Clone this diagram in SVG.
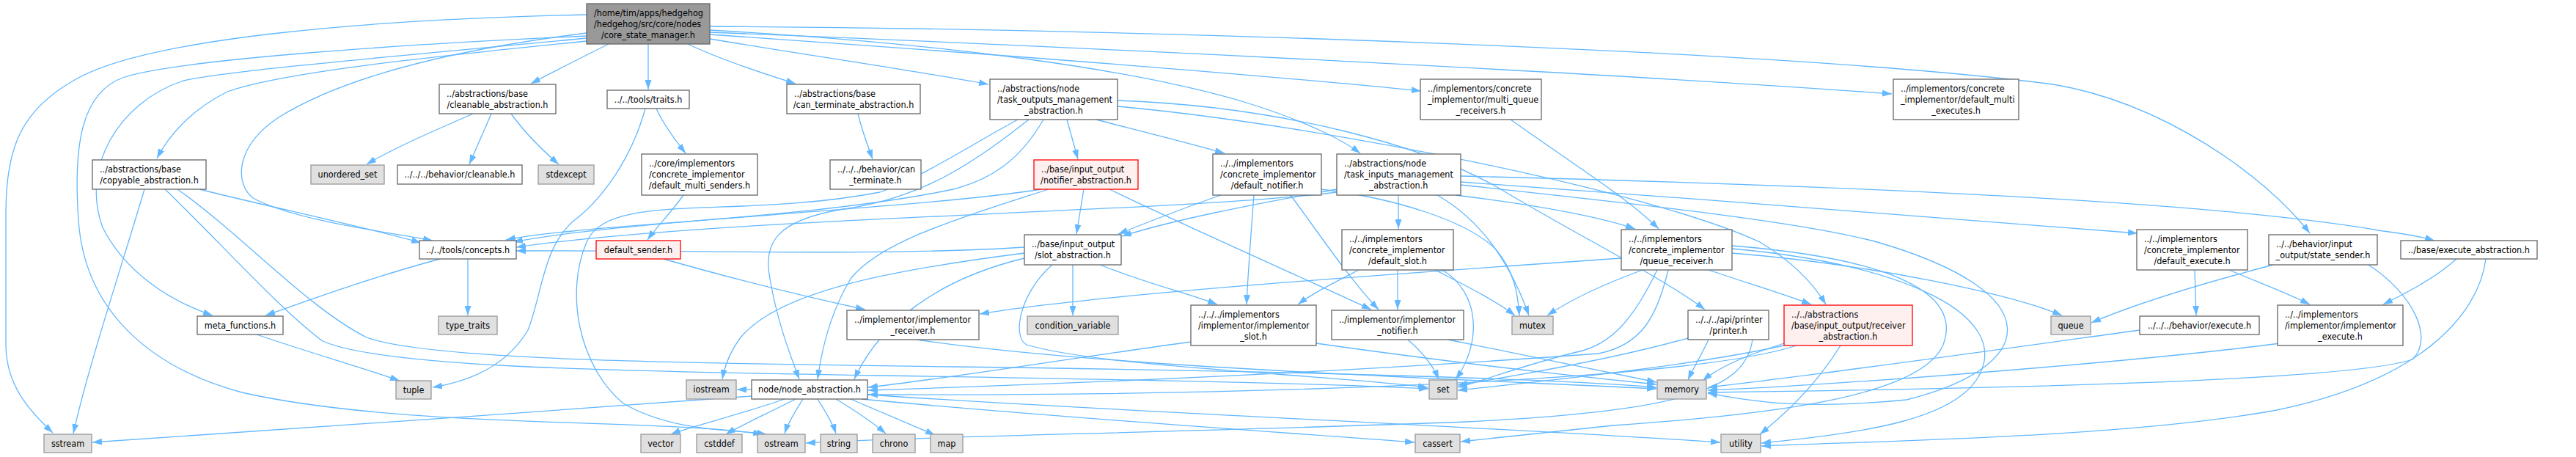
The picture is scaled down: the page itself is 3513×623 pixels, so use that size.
<svg xmlns="http://www.w3.org/2000/svg" width="3513" height="623" viewBox="0 0 3513 623">
<defs>
<marker id="a" viewBox="0 0 13 9" refX="13" refY="4.5" markerWidth="13" markerHeight="9" markerUnits="userSpaceOnUse" orient="auto"><path d="M0,0 L13,4.5 L0,9 z" fill="#63b8ff"/></marker>
<style>
.w{fill:#fff;stroke:#666;stroke-width:1.3}
.g{fill:#e0e0e0;stroke:#999;stroke-width:1.3}
.r{fill:#fff0f0;stroke:#f00;stroke-width:1.3}
.rt{fill:#999;stroke:#666;stroke-width:1.3}
text{font-family:"DejaVu Sans Condensed","DejaVu Sans",sans-serif;font-stretch:condensed;font-size:12.5px;fill:#000}
.c{text-anchor:middle}
#edges path{fill:none;stroke:#63b8ff;stroke-width:1.3;marker-end:url(#a)}
</style>
</defs>
<rect width="3513" height="623" fill="#fff"/>
<g id="edges">
<path d="M800,20 C520,26 200,50 100,110 C30,150 8,200 8,290 L8,470 C8,525 40,560 72,590"/>
<path d="M800,49 C560,60 250,80 170,105 C110,125 100,200 107,300 C115,420 200,500 330,535 C550,585 900,570 1040,592"/>
<path d="M800,52 C560,75 320,95 250,110 C160,140 110,230 140,310 C170,370 230,410 290,430"/>
<path d="M800,56 C560,80 380,100 310,125 C260,150 230,185 214,216"/>
<path d="M800,45 C600,70 460,110 380,160 C320,200 320,250 345,270 C400,300 520,315 590,328"/>
<path d="M830,60 C800,75 760,95 724,114"/>
<path d="M884,60 L884,122"/>
<path d="M938,60 C980,80 1040,100 1085,114"/>
<path d="M968,53 C1100,75 1240,95 1348,115"/>
<path d="M968,47 C1300,70 1700,100 1938,124"/>
<path d="M968,41 C1300,60 1550,95 1700,140 C1780,165 1830,190 1855,209"/>
<path d="M968,44 C1500,65 2200,100 2580,128"/>
<path d="M968,36 C1600,40 2450,70 2800,115 C2950,140 3090,240 3150,318"/>
<path d="M645,155 C600,175 540,200 500,224"/>
<path d="M670,155 L640,224"/>
<path d="M697,155 C715,180 740,205 762,224"/>
<path d="M197,258 C170,350 120,500 100,591"/>
<path d="M272,258 C380,285 480,305 574,331"/>
<path d="M225,258 C300,330 380,420 440,465 C520,500 800,505 1200,512 C1600,518 1850,525 1948,530"/>
<path d="M242,258 C330,320 420,420 500,460 C580,490 900,495 1300,500 C1700,505 2100,515 2259,528"/>
<path d="M880,148 C860,220 820,270 790,295 C740,330 740,400 720,450 C690,500 640,520 590,528"/>
<path d="M895,148 C905,170 920,190 935,209"/>
<path d="M1170,155 C1176,180 1184,200 1190,217"/>
<path d="M932,266 C915,290 895,310 883,327"/>
<path d="M638,353 L638,430"/>
<path d="M600,353 C500,380 420,410 362,430"/>
<path d="M350,456 C420,480 490,500 545,519"/>
<path d="M905,353 C1000,380 1100,405 1180,422"/>
<path d="M1423,163 C1390,220 1350,245 1300,258 C1100,300 800,305 690,327"/>
<path d="M1388,163 C1320,200 1260,240 1200,262 C1000,300 830,260 800,330 C770,400 790,500 850,550 C920,590 1000,585 1045,592"/>
<path d="M1403,163 C1330,220 1260,270 1150,285 C1060,300 1040,330 1050,380 C1060,440 1080,490 1090,517"/>
<path d="M1455,163 L1470,217"/>
<path d="M1495,163 C1560,180 1620,195 1670,209"/>
<path d="M1524,137 C1750,145 1950,200 2050,260 C2150,320 2270,380 2325,422"/>
<path d="M1524,145 C1800,170 2250,260 2400,330 C2450,360 2475,390 2490,415"/>
<path d="M1478,258 L1468,319"/>
<path d="M1513,258 C1620,310 1780,380 1870,422"/>
<path d="M1420,258 C1250,285 850,300 700,330"/>
<path d="M1430,258 C1300,300 1200,330 1160,380 C1130,430 1120,480 1115,517"/>
<path d="M1665,266 C1610,285 1560,305 1525,319"/>
<path d="M1710,266 C1706,320 1702,370 1700,415"/>
<path d="M1760,266 C1800,320 1840,380 1880,422"/>
<path d="M1802,258 C1900,270 2000,300 2040,340 C2065,370 2070,400 2072,430"/>
<path d="M1823,262 C1600,290 1000,295 704,337"/>
<path d="M1823,258 C1700,280 1600,300 1530,322"/>
<path d="M1907,266 L1907,312"/>
<path d="M1985,266 C2100,280 2180,295 2230,312"/>
<path d="M1960,266 C2020,300 2060,360 2085,430"/>
<path d="M1992,240 C2400,250 3000,270 3250,315 C3290,320 3310,325 3320,328"/>
<path d="M1992,248 C2300,270 2700,300 2915,318"/>
<path d="M1992,252 C2200,275 2450,300 2560,330 C2800,400 2780,500 2600,545 C2450,560 2380,545 2329,536"/>
<path d="M1463,361 L1463,430"/>
<path d="M1500,361 C1560,385 1620,400 1660,415"/>
<path d="M1397,337 C1200,350 900,340 704,342"/>
<path d="M1397,352 C1280,380 1200,440 1165,517"/>
<path d="M1435,361 C1390,400 1380,460 1400,470 C1500,500 1800,510 1947,528"/>
<path d="M1397,345 C1200,370 1060,400 1010,460 C995,480 988,500 985,517"/>
<path d="M1853,368 C1820,385 1790,400 1770,415"/>
<path d="M1906,368 L1906,422"/>
<path d="M1957,368 C2000,390 2040,410 2066,430"/>
<path d="M1967,368 C2020,400 2020,470 1985,517"/>
<path d="M2060,163 C2140,220 2220,270 2262,312"/>
<path d="M2211,352 C1950,370 1500,400 1336,428"/>
<path d="M2240,368 C2180,390 2140,410 2110,430"/>
<path d="M2260,368 C2230,430 2200,470 2150,480 C2070,500 2020,520 1988,528"/>
<path d="M2275,368 C2260,430 2240,470 2180,482 C1800,510 1400,525 1184,532"/>
<path d="M2330,368 C2380,385 2430,400 2470,415"/>
<path d="M2362,345 C2550,360 2740,400 2812,430"/>
<path d="M2362,335 C2550,350 2680,390 2650,470 C2620,540 2420,565 2200,580 C2100,590 2030,598 1992,602"/>
<path d="M2362,339 C2600,360 2740,430 2700,510 C2670,570 2550,590 2402,604"/>
<path d="M2433,468 C2380,485 2345,500 2322,519"/>
<path d="M2433,471 C2300,500 2100,520 1988,532"/>
<path d="M2450,471 C2300,520 1700,540 1184,538"/>
<path d="M2510,471 C2480,520 2440,560 2400,592"/>
<path d="M2305,460 C2200,490 2050,515 1988,525"/>
<path d="M2330,463 C2320,485 2310,500 2302,518"/>
<path d="M2390,463 C2380,530 2300,560 2000,575 C1600,590 1250,595 1099,604"/>
<path d="M1250,463 C1500,500 1950,515 2259,530"/>
<path d="M1624,466 C1450,490 1300,515 1184,528"/>
<path d="M1795,468 C1950,490 2120,510 2259,524"/>
<path d="M1920,463 C1940,480 1955,500 1962,517"/>
<path d="M1975,463 C2080,485 2180,505 2259,521"/>
<path d="M3100,361 C2990,390 2910,415 2852,440"/>
<path d="M3230,361 C3290,400 3320,460 3290,490 C3200,520 2700,530 2329,535"/>
<path d="M3350,353 C3320,380 3280,400 3250,415"/>
<path d="M3390,353 C3380,430 3300,520 3100,560 C2900,595 2600,600 2402,608"/>
<path d="M2993,368 L2995,430"/>
<path d="M3040,368 C3080,385 3120,400 3150,415"/>
<path d="M2918,450 C2700,480 2450,515 2329,528"/>
<path d="M3110,468 C2900,495 2500,525 2329,532"/>
<path d="M1025,531 L1005,531"/>
<path d="M1025,540 C760,560 320,590 126,603"/>
<path d="M1070,544 C1010,565 940,582 915,592"/>
<path d="M1085,544 C1050,562 1010,580 990,592"/>
<path d="M1095,544 C1085,560 1075,575 1070,591"/>
<path d="M1115,544 C1125,560 1135,575 1140,591"/>
<path d="M1140,544 C1170,562 1195,580 1208,591"/>
<path d="M1160,544 C1210,565 1250,582 1275,593"/>
<path d="M1183,538 C1500,560 2000,580 2346,603"/>
<path d="M1175,544 C1450,570 1760,590 1929,603"/>
</g>
<g id="root"><rect class="rt" x="800" y="5" width="168" height="55"/><text x="810" y="21.7">/home/tim/apps/hedgehog</text><text x="810" y="36.7">/hedgehog/src/core/nodes</text><text class="c" x="884" y="51.7">/core_state_manager.h</text></g>
<g id="cleanable_abs"><rect class="w" x="599" y="115" width="159" height="40"/><text x="609" y="131.7">../abstractions/base</text><text class="c" x="678.5" y="146.7">/cleanable_abstraction.h</text></g>
<g id="traits"><rect class="w" x="828" y="123" width="112" height="25"/><text class="c" x="884" y="139.7">../../tools/traits.h</text></g>
<g id="can_term_abs"><rect class="w" x="1073" y="115" width="182" height="40"/><text x="1083" y="131.7">../abstractions/base</text><text class="c" x="1164" y="146.7">/can_terminate_abstraction.h</text></g>
<g id="task_out"><rect class="w" x="1350" y="108" width="174" height="55"/><text x="1360" y="124.7">../abstractions/node</text><text x="1360" y="139.7">/task_outputs_management</text><text class="c" x="1437" y="154.7">_abstraction.h</text></g>
<g id="multi_queue"><rect class="w" x="1937" y="108" width="165" height="55"/><text x="1947" y="124.7">../implementors/concrete</text><text x="1947" y="139.7">_implementor/multi_queue</text><text class="c" x="2019.5" y="154.7">_receivers.h</text></g>
<g id="multi_exec"><rect class="w" x="2582" y="108" width="171" height="55"/><text x="2592" y="124.7">../implementors/concrete</text><text x="2592" y="139.7">_implementor/default_multi</text><text class="c" x="2667.5" y="154.7">_executes.h</text></g>
<g id="copyable"><rect class="w" x="126" y="218" width="155" height="40"/><text x="136" y="234.7">../abstractions/base</text><text class="c" x="203.5" y="249.7">/copyable_abstraction.h</text></g>
<g id="unordered_set"><rect class="g" x="424" y="225" width="100" height="26"/><text class="c" x="474" y="242.2">unordered_set</text></g>
<g id="cleanable_h"><rect class="w" x="542" y="225" width="170" height="26"/><text class="c" x="627" y="242.2">../../../behavior/cleanable.h</text></g>
<g id="stdexcept"><rect class="g" x="734" y="225" width="76" height="26"/><text class="c" x="772" y="242.2">stdexcept</text></g>
<g id="multi_senders"><rect class="w" x="875" y="210" width="158" height="56"/><text x="885" y="226.7">../core/implementors</text><text x="885" y="241.7">/concrete_implementor</text><text class="c" x="954" y="256.7">/default_multi_senders.h</text></g>
<g id="can_term_h"><rect class="w" x="1132" y="218" width="124" height="40"/><text x="1142" y="234.7">../../../behavior/can</text><text class="c" x="1194" y="249.7">_terminate.h</text></g>
<g id="notifier_abs"><rect class="r" x="1410" y="218" width="142" height="40"/><text x="1420" y="234.7">../base/input_output</text><text class="c" x="1481" y="249.7">/notifier_abstraction.h</text></g>
<g id="default_notifier"><rect class="w" x="1654" y="210" width="148" height="56"/><text x="1664" y="226.7">../../implementors</text><text x="1664" y="241.7">/concrete_implementor</text><text class="c" x="1728" y="256.7">/default_notifier.h</text></g>
<g id="task_in"><rect class="w" x="1823" y="210" width="169" height="56"/><text x="1833" y="226.7">../abstractions/node</text><text x="1833" y="241.7">/task_inputs_management</text><text class="c" x="1907.5" y="256.7">_abstraction.h</text></g>
<g id="default_slot"><rect class="w" x="1830" y="313" width="152" height="55"/><text x="1840" y="329.7">../../implementors</text><text x="1840" y="344.7">/concrete_implementor</text><text class="c" x="1906" y="359.7">/default_slot.h</text></g>
<g id="queue_receiver"><rect class="w" x="2211" y="313" width="151" height="55"/><text x="2221" y="329.7">../../implementors</text><text x="2221" y="344.7">/concrete_implementor</text><text class="c" x="2286.5" y="359.7">/queue_receiver.h</text></g>
<g id="default_execute"><rect class="w" x="2914" y="313" width="151" height="55"/><text x="2924" y="329.7">../../implementors</text><text x="2924" y="344.7">/concrete_implementor</text><text class="c" x="2989.5" y="359.7">/default_execute.h</text></g>
<g id="concepts"><rect class="w" x="572" y="328" width="132" height="25"/><text class="c" x="638" y="344.7">../../tools/concepts.h</text></g>
<g id="default_sender"><rect class="r" x="813" y="328" width="115" height="25"/><text class="c" x="870.5" y="344.7">default_sender.h</text></g>
<g id="slot_abs"><rect class="w" x="1397" y="320" width="132" height="41"/><text x="1407" y="337.2">../base/input_output</text><text class="c" x="1463" y="352.2">/slot_abstraction.h</text></g>
<g id="state_sender"><rect class="w" x="3094" y="320" width="148" height="41"/><text x="3104" y="337.2">../../behavior/input</text><text class="c" x="3168" y="352.2">_output/state_sender.h</text></g>
<g id="execute_abs"><rect class="w" x="3274" y="328" width="186" height="25"/><text class="c" x="3367" y="344.7">../base/execute_abstraction.h</text></g>
<g id="meta_functions"><rect class="w" x="269" y="431" width="117" height="25"/><text class="c" x="327.5" y="447.7">meta_functions.h</text></g>
<g id="type_traits"><rect class="g" x="598" y="431" width="80" height="25"/><text class="c" x="638" y="447.7">type_traits</text></g>
<g id="impl_receiver"><rect class="w" x="1155" y="423" width="180" height="40"/><text x="1165" y="439.7">../implementor/implementor</text><text class="c" x="1245" y="454.7">_receiver.h</text></g>
<g id="condition_variable"><rect class="g" x="1401" y="431" width="124" height="25"/><text class="c" x="1463" y="447.7">condition_variable</text></g>
<g id="impl_slot"><rect class="w" x="1624" y="416" width="171" height="55"/><text x="1634" y="432.7">../../../implementors</text><text x="1634" y="447.7">/implementor/implementor</text><text class="c" x="1709.5" y="462.7">_slot.h</text></g>
<g id="impl_notifier"><rect class="w" x="1816" y="423" width="180" height="40"/><text x="1826" y="439.7">../implementor/implementor</text><text class="c" x="1906" y="454.7">_notifier.h</text></g>
<g id="mutex"><rect class="g" x="2062" y="431" width="56" height="25"/><text class="c" x="2090" y="447.7">mutex</text></g>
<g id="printer"><rect class="w" x="2302" y="423" width="110" height="40"/><text x="2312" y="439.7">../../../api/printer</text><text class="c" x="2357" y="454.7">/printer.h</text></g>
<g id="receiver_abs"><rect class="r" x="2433" y="416" width="175" height="55"/><text x="2443" y="432.7">../../abstractions</text><text x="2443" y="447.7">/base/input_output/receiver</text><text class="c" x="2520.5" y="462.7">_abstraction.h</text></g>
<g id="queue"><rect class="g" x="2797" y="431" width="54" height="25"/><text class="c" x="2824" y="447.7">queue</text></g>
<g id="execute_h"><rect class="w" x="2918" y="431" width="163" height="25"/><text class="c" x="2999.5" y="447.7">../../../behavior/execute.h</text></g>
<g id="impl_execute"><rect class="w" x="3106" y="416" width="171" height="55"/><text x="3116" y="432.7">../../implementors</text><text x="3116" y="447.7">/implementor/implementor</text><text class="c" x="3191.5" y="462.7">_execute.h</text></g>
<g id="tuple"><rect class="g" x="540" y="519" width="48" height="25"/><text class="c" x="564" y="535.7">tuple</text></g>
<g id="iostream"><rect class="g" x="936" y="518" width="68" height="26"/><text class="c" x="970" y="535.2">iostream</text></g>
<g id="node_abs"><rect class="w" x="1025" y="518" width="158" height="26"/><text class="c" x="1104" y="535.2">node/node_abstraction.h</text></g>
<g id="set"><rect class="g" x="1949" y="518" width="38" height="26"/><text class="c" x="1968" y="535.2">set</text></g>
<g id="memory"><rect class="g" x="2260" y="518" width="67" height="26"/><text class="c" x="2293.5" y="535.2">memory</text></g>
<g id="sstream"><rect class="g" x="60" y="592" width="65" height="25"/><text class="c" x="92.5" y="608.7">sstream</text></g>
<g id="vector"><rect class="g" x="874" y="592" width="54" height="25"/><text class="c" x="901" y="608.7">vector</text></g>
<g id="cstddef"><rect class="g" x="950" y="592" width="62" height="25"/><text class="c" x="981" y="608.7">cstddef</text></g>
<g id="ostream"><rect class="g" x="1033" y="592" width="65" height="25"/><text class="c" x="1065.5" y="608.7">ostream</text></g>
<g id="string"><rect class="g" x="1119" y="592" width="50" height="25"/><text class="c" x="1144" y="608.7">string</text></g>
<g id="chrono"><rect class="g" x="1190" y="592" width="58" height="25"/><text class="c" x="1219" y="608.7">chrono</text></g>
<g id="map"><rect class="g" x="1269" y="592" width="44" height="25"/><text class="c" x="1291" y="608.7">map</text></g>
<g id="cassert"><rect class="g" x="1930" y="592" width="61" height="25"/><text class="c" x="1960.5" y="608.7">cassert</text></g>
<g id="utility"><rect class="g" x="2347" y="592" width="54" height="25"/><text class="c" x="2374" y="608.7">utility</text></g>
</svg>
